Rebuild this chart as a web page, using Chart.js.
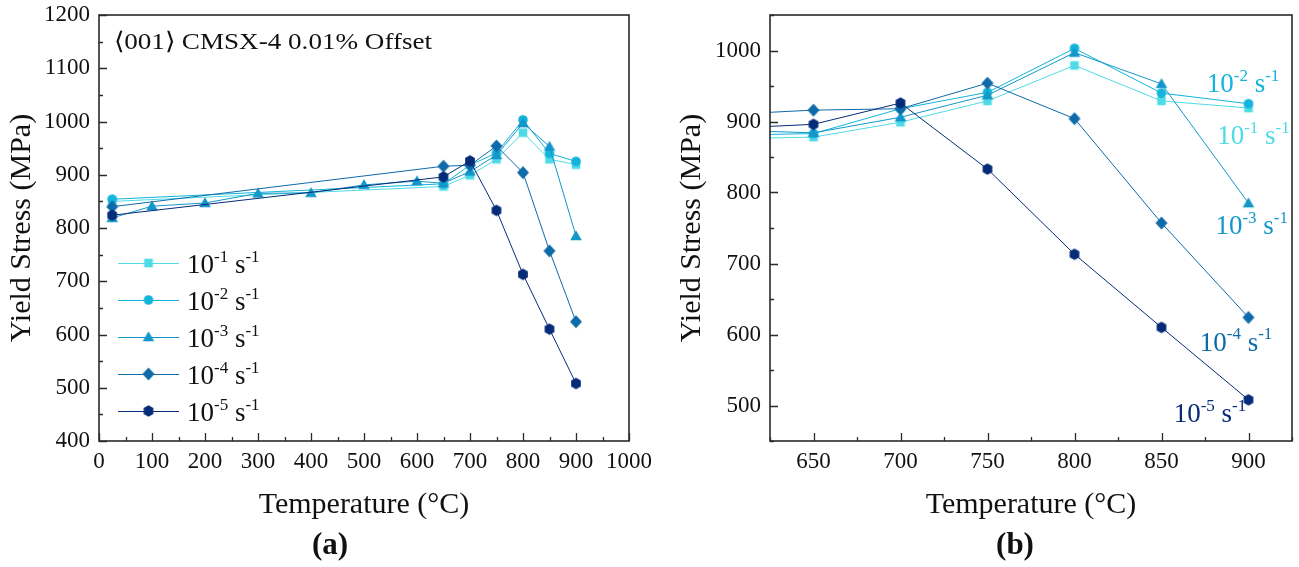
<!DOCTYPE html>
<html>
<head>
<meta charset="utf-8">
<script src="https://cdn.jsdelivr.net/npm/chart.js@4.4.1/dist/chart.umd.min.js"></script>
<style>
  body { margin: 0; background: #fff; width: 1299px; height: 567px; position: relative; overflow: hidden; font-family: "Liberation Serif", "Times New Roman", serif; }
  #chartA { position: absolute; left: 0; top: 0; }
  #chartB { position: absolute; left: 650px; top: 0; }
  .tag { position: absolute; font-weight: bold; font-size: 31px; color: #111; transform: translate(-50%, -50%); }
</style>
</head>
<body>
<canvas id="chartA" width="662" height="567"></canvas>
<canvas id="chartB" width="649" height="567"></canvas>
<div class="tag" style="left:330px;top:544px">(a)</div>
<div class="tag" style="left:1015px;top:544px">(b)</div>
<script>
// temperatures (°C)
const tempsMain = [25, 650, 700, 750, 800, 850, 900];
const tempsFull = [25, 100, 200, 300, 400, 500, 600, 650, 700, 750, 800, 850, 900];

// yield stress (MPa) per strain rate
const rate1 = [850, 878, 899, 929, 979, 929, 919];
const rate2 = [854, 883, 918, 941, 1003, 940, 925];
const rate3 = [819, 841, 847, 865, 866, 881, 888, 884, 906, 937, 997, 953, 785];
const rate4 = [840, 916, 918, 954, 904, 757, 624];
const rate5 = [824, 896, 926, 833, 713, 610, 508];

const rateExps = ["1", "2", "3", "4", "5"];
const colors = ["#4fdbe6", "#12b4dc", "#1397c9", "#0e6aa8", "#062b78"];
const shapes = ["square", "circle", "triangle", "diamond", "hexagon"];

// axis ticks
const xTicksA = [0, 100, 200, 300, 400, 500, 600, 700, 800, 900, 1000];
const yTicksA = [400, 500, 600, 700, 800, 900, 1000, 1100, 1200];
const xTicksB = [650, 700, 750, 800, 850, 900];
const yTicksB = [500, 600, 700, 800, 900, 1000];

const FONT = "'Liberation Serif', 'Times New Roman', serif";
Chart.defaults.font.family = FONT;
Chart.defaults.color = "#111";

function makeMarker(shape, color) {
  const c = document.createElement("canvas");
  c.width = 16; c.height = 16;
  const g = c.getContext("2d");
  g.fillStyle = color;
  g.beginPath();
  if (shape === "square") {
    g.rect(3.7, 3.7, 8.6, 8.6);
  } else if (shape === "circle") {
    g.arc(8, 8, 4.8, 0, Math.PI * 2);
  } else if (shape === "triangle") {
    g.moveTo(8, 2.3); g.lineTo(13.8, 12.3); g.lineTo(2.2, 12.3);
  } else if (shape === "diamond") {
    g.moveTo(8, 1.6); g.lineTo(14, 8); g.lineTo(8, 14.4); g.lineTo(2, 8);
  } else {
    for (let k = 0; k < 6; k++) {
      const a = -Math.PI / 2 + k * Math.PI / 3;
      const px = 8 + 5.6 * Math.cos(a), py = 8 + 5.8 * Math.sin(a);
      k ? g.lineTo(px, py) : g.moveTo(px, py);
    }
  }
  g.closePath();
  g.fill();
  return c;
}
const markers = shapes.map((s, i) => makeMarker(s, colors[i]));

function pts(xs, ys) {
  return xs.map((x, i) => ({ x: x, y: ys[i] }));
}

function buildDatasets() {
  const series = [
    pts(tempsMain, rate1),
    pts(tempsMain, rate2),
    pts(tempsFull, rate3),
    pts(tempsMain, rate4),
    pts(tempsMain, rate5)
  ];
  return series.map((d, i) => ({
    label: "10-" + rateExps[i] + " s-1",
    data: d,
    borderColor: colors[i],
    backgroundColor: colors[i],
    borderWidth: 1,
    pointStyle: markers[i],
    pointRadius: 6,
    order: 4 - i
  }));
}

function drawRate(ctx, x, y, exp, color, size) {
  const big = size + "px " + FONT;
  const small = Math.round(size * 0.62) + "px " + FONT;
  const base = y + size * 0.33;
  const up = base - size * 0.42;
  ctx.save();
  ctx.fillStyle = color;
  ctx.textAlign = "left";
  ctx.textBaseline = "alphabetic";
  [["10", big, base], ["-" + exp, small, up], [" s", big, base], ["-1", small, up]].forEach(p => {
    ctx.font = p[1];
    ctx.fillText(p[0], x, p[2]);
    x += ctx.measureText(p[0]).width;
  });
  ctx.restore();
}

const framePlugin = {
  id: "frame",
  afterDatasetsDraw(chart) {
    const { ctx, chartArea: a, scales } = chart;
    ctx.save();
    ctx.strokeStyle = "#2a2a2a";
    ctx.lineWidth = 1.6;
    ctx.strokeRect(a.left, a.top, a.right - a.left, a.bottom - a.top);
    ctx.lineWidth = 1.3;
    const xt = scales.x.ticks.map(t => t.value);
    const yt = scales.y.ticks.map(t => t.value);
    const xs = xt[1] - xt[0], ys = yt[1] - yt[0];
    ctx.beginPath();
    for (let v = xt[0] - xs / 2; v <= scales.x.max + 0.01; v += xs / 2) {
      if (v < scales.x.min - 0.01) continue;
      const major = xt.some(t => Math.abs(t - v) < 0.01);
      const px = Math.round(scales.x.getPixelForValue(v)) + 0.5;
      ctx.moveTo(px, a.bottom);
      ctx.lineTo(px, a.bottom - (major ? 8 : 4));
    }
    for (let v = yt[0] - ys / 2; v <= scales.y.max + 0.01; v += ys / 2) {
      if (v < scales.y.min - 0.01) continue;
      const major = yt.some(t => Math.abs(t - v) < 0.01);
      const py = Math.round(scales.y.getPixelForValue(v)) + 0.5;
      ctx.moveTo(a.left, py);
      ctx.lineTo(a.left + (major ? 8 : 4), py);
    }
    ctx.stroke();
    ctx.restore();
  }
};

const legendPlugin = {
  id: "rateLegend",
  afterDraw(chart) {
    const ctx = chart.ctx;
    ctx.save();
    rateExps.forEach((e, i) => {
      const y = 263 + 37 * i;
      ctx.strokeStyle = colors[i];
      ctx.lineWidth = 1;
      ctx.beginPath();
      ctx.moveTo(118, y + 0.5);
      ctx.lineTo(179, y + 0.5);
      ctx.stroke();
      ctx.drawImage(markers[i], 148.5 - 8, y - 8);
      drawRate(ctx, 187, y + 1, e, "#111", 27);
    });
    ctx.font = "24px " + FONT;
    ctx.fillStyle = "#111";
    ctx.textBaseline = "middle";
    ctx.translate(114, 43);
    ctx.scale(1.13, 1);
    ctx.fillText("\u27E8001\u27E9 CMSX-4 0.01% Offset", 0, 0);
    ctx.restore();
  }
};

// label anchors for panel (b), in data units
const labelTemps = [882, 876, 881, 872, 857];
const labelStress = [881, 954, 754, 590, 489];

const sideLabelPlugin = {
  id: "sideLabels",
  afterDraw(chart) {
    const { ctx, scales } = chart;
    rateExps.forEach((e, i) => {
      drawRate(ctx, scales.x.getPixelForValue(labelTemps[i]), scales.y.getPixelForValue(labelStress[i]), e, colors[i], 27);
    });
  }
};

function makeOptions(xMin, xMax, yMin, yMax, xTicks, yTicks, yWidth, yTitlePad, rightPad) {
  const tickFont = { family: FONT, size: 23 };
  const titleFont = { family: FONT, size: 30 };
  return {
    responsive: false,
    animation: false,
    layout: { padding: { top: 15, right: rightPad, left: 0, bottom: 0 } },
    plugins: { legend: { display: false }, tooltip: { enabled: false } },
    scales: {
      x: {
        type: "linear",
        min: xMin, max: xMax,
        grid: { display: false, drawTicks: false },
        border: { display: false },
        afterBuildTicks: s => { s.ticks = xTicks.map(v => ({ value: v })); },
        afterFit: s => { s.height = 126; s.paddingLeft = 0; s.paddingRight = 0; },
        ticks: { padding: 7, color: "#111", font: tickFont, maxRotation: 0, autoSkip: false, callback: v => String(v) },
        title: { display: true, text: "Temperature (\u00B0C)", color: "#111", font: titleFont, padding: { top: 0, bottom: 44 } }
      },
      y: {
        type: "linear",
        min: yMin, max: yMax,
        grid: { display: false, drawTicks: false },
        border: { display: false },
        afterBuildTicks: s => { s.ticks = yTicks.map(v => ({ value: v })); },
        afterFit: s => { s.width = yWidth; s.paddingTop = 0; s.paddingBottom = 0; },
        ticks: { padding: 9, color: "#111", font: tickFont, autoSkip: false, callback: v => String(v) },
        title: { display: true, text: "Yield Stress (MPa)", color: "#111", font: titleFont, padding: { top: yTitlePad, bottom: 0 } }
      }
    }
  };
}

new Chart(document.getElementById("chartA"), {
  type: "line",
  data: { datasets: buildDatasets() },
  options: makeOptions(0, 1000, 400, 1200, xTicksA, yTicksA, 99, 4, 33),
  plugins: [framePlugin, legendPlugin]
});

new Chart(document.getElementById("chartB"), {
  type: "line",
  data: { datasets: buildDatasets() },
  options: makeOptions(625, 925, 450, 1050, xTicksB, yTicksB, 120, 24, 3),
  plugins: [framePlugin, sideLabelPlugin]
});
</script>
</body>
</html>
